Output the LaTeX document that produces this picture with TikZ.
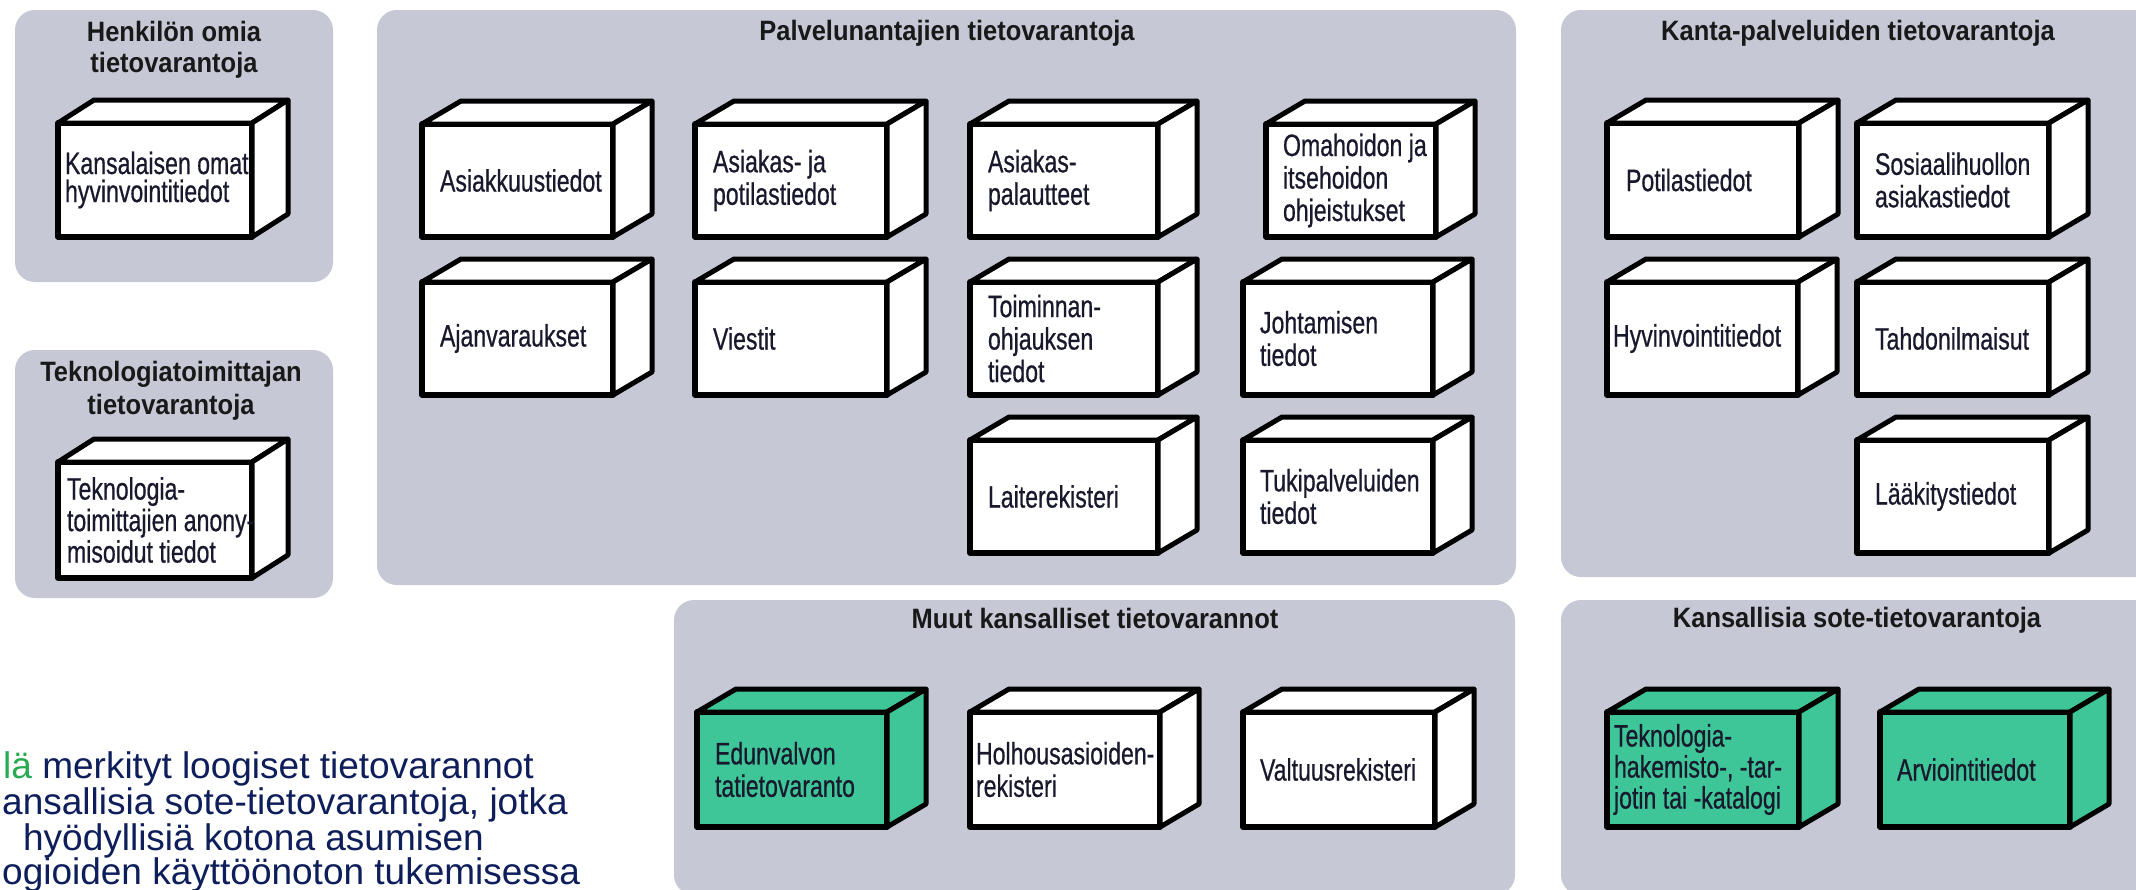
\documentclass[tikz,border=0pt]{standalone}
\usepackage{fontspec}
\setmainfont{Liberation Sans}
\newfontfamily\cbfont{Liberation Sans}[FakeStretch=0.745, FakeBold=0.6]
\newfontfamily\ttlfont{Liberation Sans}[FakeStretch=0.91]
\newfontfamily\lgfont{Liberation Sans}
\definecolor{panelgray}{RGB}{198,200,213}
\definecolor{cgreen}{RGB}{62,198,152}
\definecolor{boxtext}{RGB}{25,25,45}
\definecolor{legnavy}{RGB}{14,30,90}
\definecolor{leggreen}{RGB}{40,170,80}
\def\cdx{39}
\def\cdy{23}
\def\cubelsk{32.5}
\newcommand\cubebox[8]{%
  \node[cubefront, fill=#6, minimum width=#4pt, minimum height=#5pt, anchor=north west] (#1) at (#2,#3) {};
  \filldraw[cubeline, fill=#6] (#1.north west) -- ++(\cdx,-\cdy) -- ([shift={(\cdx,-\cdy)}]#1.north east) -- (#1.north east) -- cycle;
  \filldraw[cubeline, fill=#6] (#1.north east) -- ++(\cdx,-\cdy) -- ([shift={(\cdx,-\cdy)}]#1.south east) -- (#1.south east) -- cycle;
  \node[cubetext, font=\cbfont\fontsize{31}{\cubelsk}\selectfont, anchor=west] (#1t) at ([xshift=#7pt]#1.west) {#8};
}
\tikzset{
  panel/.style={fill=panelgray, draw=none, rounded corners=20pt, inner sep=0pt, outer sep=0pt, anchor=north west},
  cubefront/.style={draw=black, line width=5.5pt, inner sep=0pt, outer sep=0pt},
  cubeline/.style={draw=black, line width=5pt},
  cubetext/.style={inner sep=0pt, outer sep=0pt, align=left, text=boxtext},
  ttl/.style={font=\ttlfont\bfseries\fontsize{28}{32}\selectfont, anchor=base, inner sep=0pt, text=black!90},
  legend/.style={font=\lgfont\fontsize{37}{37}\selectfont, text=legnavy, inner sep=0pt}
}
\begin{document}
\begin{tikzpicture}[x=1pt, y=-1pt, line join=round]
\useasboundingbox (0,0) rectangle (2136,889);
\fill[white] (0,0) rectangle (2136,889);
% panels
\node[panel, minimum width=318pt, minimum height=272pt] (p1) at (15,10) {};
\node[panel, minimum width=318pt, minimum height=248pt] (p2) at (15,350) {};
\node[panel, minimum width=1139pt, minimum height=575pt] (p3) at (377,10) {};
\node[panel, minimum width=600pt, minimum height=567pt] (p4) at (1561,10) {};
\node[panel, minimum width=841pt, minimum height=295pt] (p5) at (674,600) {};
\node[panel, minimum width=600pt, minimum height=295pt] (p6) at (1561,600) {};
% titles
\node[ttl] (t1a) at (174,41) {Henkilön omia};
\node[ttl] (t1b) at (174,72) {tietovarantoja};
\node[ttl] (t2a) at (171,381) {Teknologiatoimittajan};
\node[ttl] (t2b) at (171,414) {tietovarantoja};
\node[ttl] (t3) at (947,40) {Palvelunantajien tietovarantoja};
\node[ttl] (t4) at (1858,40) {Kanta-palveluiden tietovarantoja};
\node[ttl] (t5) at (1095,628) {Muut kansalliset tietovarannot};
\node[ttl] (t6) at (1857,627) {Kansallisia sote-tietovarantoja};
% panel 1 and 2
\def\cdx{36}
\def\cubelsk{28}
\cubebox{kansal}{58}{123}{194}{114}{white}{7}{Kansalaisen omat\\hyvinvointitiedot}
\def\cubelsk{31.5}
\cubebox{tekntoim}{58}{462}{194}{116}{white}{9}{Teknologia-\\toimittajien anony-\\misoidut tiedot}
% panel 3
\def\cdx{39}
\def\cubelsk{32.5}
\cubebox{asiakkuus}{422}{124}{191}{113}{white}{18}{Asiakkuustiedot}
\cubebox{asiakpot}{695}{124}{192}{113}{white}{18}{Asiakas- ja\\potilastiedot}
\cubebox{palaute}{970}{124}{188}{113}{white}{18}{Asiakas-\\palautteet}
\cubebox{omahoito}{1266}{124}{170}{113}{white}{17}{Omahoidon ja\\itsehoidon\\ohjeistukset}
\cubebox{ajanvar}{422}{282}{191}{113}{white}{18}{Ajanvaraukset}
\cubebox{viestit}{695}{282}{192}{113}{white}{18}{Viestit}
\cubebox{toimohj}{970}{282}{188}{113}{white}{18}{Toiminnan-\\ohjauksen\\tiedot}
\cubebox{johtam}{1243}{282}{190}{113}{white}{17}{Johtamisen\\tiedot}
\cubebox{laiterek}{970}{440}{188}{113}{white}{18}{Laiterekisteri}
\cubebox{tukipalv}{1243}{440}{190}{113}{white}{17}{Tukipalveluiden\\tiedot}
% panel 4
\cubebox{potilas}{1607}{123}{192}{114}{white}{19}{Potilastiedot}
\cubebox{sosiaali}{1857}{123}{192}{114}{white}{18}{Sosiaalihuollon\\asiakastiedot}
\cubebox{hyvinv}{1607}{282}{191}{113}{white}{6}{Hyvinvointitiedot}
\cubebox{tahdon}{1857}{282}{192}{113}{white}{18}{Tahdonilmaisut}
\cubebox{laakit}{1857}{440}{192}{113}{white}{18}{Lääkitystiedot}
% panel 5
\cubebox{edunv}{697}{712}{190}{115}{cgreen}{18}{Edunvalvon\\tatietovaranto}
\cubebox{holhous}{970}{712}{190}{115}{white}{6}{Holhousasioiden-\\rekisteri}
\cubebox{valtuus}{1243}{712}{192}{115}{white}{17}{Valtuusrekisteri}
% panel 6
\def\cubelsk{31}
\cubebox{teknhak}{1607}{712}{192}{115}{cgreen}{7}{Teknologia-\\hakemisto-, -tar-\\jotin tai -katalogi}
\cubebox{arvio}{1880}{712}{190}{115}{cgreen}{17}{Arviointitiedot}
% legend
\node[legend, anchor=base east] (l1) at (534,778) {\textcolor{leggreen}{lä} merkityt loogiset tietovarannot};
\node[legend, anchor=base west] (l2) at (2,814) {ansallisia sote-tietovarantoja, jotka};
\node[legend, anchor=base east] (l3) at (484,850) {hyödyllisiä kotona asumisen};
\node[legend, anchor=base west] (l4) at (2,884) {ogioiden käyttöönoton tukemisessa};
\end{tikzpicture}
\end{document}
